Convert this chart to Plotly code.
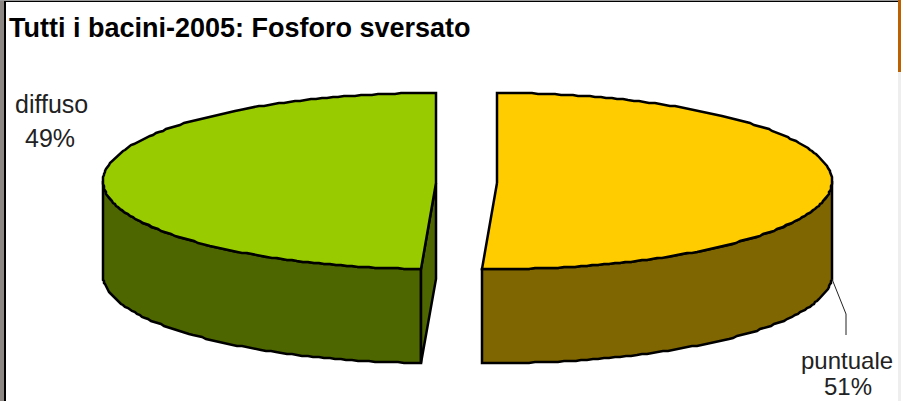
import math
import plotly.graph_objects as go

title = "Tutti i bacini-2005: Fosforo sversato"
categories = ["puntuale", "diffuso"]
values = [50.7, 49.3]
top_colors = ["#FFCC00", "#99CC00"]
side_colors = ["#806600", "#4D6600"]

W, H = 901, 401
RX_G, RX_Y, RY, DEPTH = 333, 335, 88, 94
total = sum(values)
split = values[0] / total * 360


def rim(cx, cy, rx, a0, a1, step=1.0):
    n = max(2, int(abs(a1 - a0) / step))
    pts = []
    for i in range(n + 1):
        a = math.radians(a0 + (a1 - a0) * i / n)
        pts.append((round(cx + rx * math.sin(a)), round(cy - RY * math.cos(a))))
    return pts


def poly(pts, fill, width=2.5):
    xs = [p[0] for p in pts] + [pts[0][0]]
    ys = [p[1] for p in pts] + [pts[0][1]]
    return go.Scatter(x=xs, y=ys, mode="lines", fill="toself", fillcolor=fill,
                      line=dict(color="#000000", width=width), hoverinfo="skip",
                      showlegend=False)


fig = go.Figure()

# diffuso slice, exploded to the left: angles split..360 clockwise from the top
gx, gy = 436, 183
g_top = rim(gx, gy - 2, RX_G, split, 360)
low_arc = rim(gx, gy - 2, RX_G, split, 270)
side_g = low_arc + [(x, y + DEPTH) for x, y in reversed(low_arc)]
fig.add_trace(poly(side_g, side_colors[1]))
cut = g_top[0]
fig.add_trace(poly([(gx, gy), cut, (cut[0], cut[1] + DEPTH), (gx, gy + DEPTH + 2)], side_colors[1]))
fig.add_trace(poly([(gx, gy)] + g_top, top_colors[1]))

# puntuale slice: angles 0..split
yx, yy = 497, 183
y_top = rim(yx, yy - 2, RX_Y, 0, split)
low_arc = rim(yx, yy - 2, RX_Y, 90, split)
side_y = low_arc + [(x, y + DEPTH) for x, y in reversed(low_arc)]
fig.add_trace(poly(side_y, side_colors[0]))
fig.add_trace(poly([(yx, yy)] + y_top, top_colors[0]))

# leader line of the puntuale label
fig.add_trace(go.Scatter(x=[832, 846, 846], y=[279, 314, 335], mode="lines",
                         line=dict(color="#222222", width=1), hoverinfo="skip", showlegend=False))

FONT = "Liberation Sans, Arial, sans-serif"
ann = [
    dict(x=7, y=28, text=f"<b>{title}</b>", xanchor="left", font=dict(size=27, color="#000000", family=FONT)),
    dict(x=51, y=104, text=categories[1], font=dict(size=25, color="#222222", family=FONT)),
    dict(x=50, y=138, text=f"{round(values[1] / total * 100)}%", font=dict(size=25, color="#222222", family=FONT)),
    dict(x=847, y=360, text=categories[0], font=dict(size=24, color="#222222", family=FONT)),
    dict(x=848, y=386, text=f"{round(values[0] / total * 100)}%", font=dict(size=24, color="#222222", family=FONT)),
]
for a in ann:
    a.update(xref="x", yref="y", showarrow=False, yanchor="middle")

shapes = [
    dict(type="rect", xref="x", yref="y", x0=0, x1=4, y0=0, y1=H, fillcolor="#8C8782", line_width=0, layer="above"),
    dict(type="rect", xref="x", yref="y", x0=0, x1=W, y0=0, y1=1, fillcolor="#9A9A9A", line_width=0, layer="above"),
    dict(type="rect", xref="x", yref="y", x0=4, x1=6, y0=1, y1=H, fillcolor="#000000", line_width=0, layer="above"),
    dict(type="rect", xref="x", yref="y", x0=4, x1=W, y0=1, y1=2, fillcolor="#000000", line_width=0, layer="above"),
    dict(type="rect", xref="x", yref="y", x0=898, x1=W, y0=0, y1=72, fillcolor="#BF6000", line_width=0, layer="above"),
    dict(type="rect", xref="x", yref="y", x0=898, x1=W, y0=72, y1=H, fillcolor="#EEEEEE", line_width=0, layer="above"),
]

fig.update_layout(
    width=W, height=H, margin=dict(l=0, r=0, t=0, b=0),
    paper_bgcolor="#FFFFFF", plot_bgcolor="#FFFFFF",
    xaxis=dict(range=[0, W], visible=False, fixedrange=True),
    yaxis=dict(range=[H, 0], visible=False, fixedrange=True),
    annotations=ann, shapes=shapes, showlegend=False,
)
fig.write_html("out.html", config={"displayModeBar": False},
               post_script="document.body.style.margin='0';document.documentElement.style.overflow='hidden';")
